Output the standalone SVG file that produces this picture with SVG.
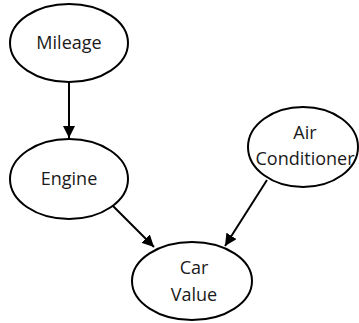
<svg xmlns="http://www.w3.org/2000/svg" width="359" height="323" viewBox="0 0 359 323">
  <style>
    .node ellipse { fill: #ffffff; stroke: #000000; stroke-width: 2; }
    .node text { font-family: "Open Sans", "Liberation Sans", sans-serif; font-size: 18px; fill: #1a1a1a; text-anchor: middle; dominant-baseline: central; }
    .edges line { stroke: #000000; stroke-width: 2; }
  </style>
  <defs>
    <marker id="arrow" viewBox="0 0 10 10" refX="10" refY="5" markerWidth="6" markerHeight="6" markerUnits="strokeWidth" orient="auto">
      <path d="M0,0 L10,5 L0,10 z" fill="#000000"/>
    </marker>
  </defs>

  <g class="edges">
    <line x1="69" y1="82" x2="69" y2="138" marker-end="url(#arrow)"/>
    <line x1="113" y1="206" x2="154" y2="247" marker-end="url(#arrow)"/>
    <line x1="267" y1="180" x2="225" y2="246" marker-end="url(#arrow)"/>
  </g>

  <g id="mileage" class="node">
    <ellipse cx="69" cy="43" rx="59" ry="39"/>
    <text x="69" y="42">Mileage</text>
  </g>
  <g id="engine" class="node">
    <ellipse cx="69" cy="179" rx="59" ry="40"/>
    <text x="69" y="178">Engine</text>
  </g>
  <g id="air-conditioner" class="node">
    <ellipse cx="303" cy="147" rx="55" ry="40"/>
    <text x="305" y="132">Air</text>
    <text x="305" y="158">Conditioner</text>
  </g>
  <g id="car-value" class="node">
    <ellipse cx="192" cy="281" rx="60" ry="39"/>
    <text x="194" y="267">Car</text>
    <text x="194" y="294">Value</text>
  </g>
</svg>
